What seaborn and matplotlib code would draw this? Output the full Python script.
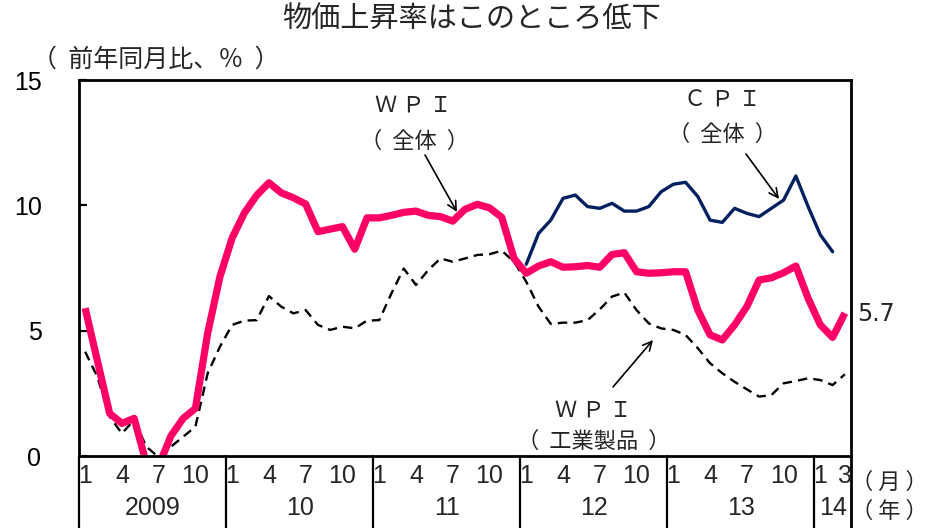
import matplotlib
matplotlib.use("Agg")
import matplotlib.pyplot as plt
import seaborn as sns
import pandas as pd
import numpy as np
from matplotlib.transforms import blended_transform_factory

# ---------------- data ----------------
wpi_all = [5.9, 3.8, 1.7, 1.3, 1.5, -0.3, -0.4, 0.8, 1.5, 1.9,
           4.9, 7.15, 8.7, 9.7, 10.4, 10.9, 10.5, 10.3, 10.05, 8.95,
           9.05, 9.15, 8.25, 9.5, 9.5, 9.6, 9.72, 9.77, 9.6, 9.55,
           9.37, 9.84, 10.04, 9.9, 9.52, 7.88, 7.29, 7.58, 7.75, 7.53,
           7.55, 7.6, 7.53, 8.04, 8.11, 7.35, 7.29, 7.31, 7.35, 7.35,
           5.82, 4.83, 4.63, 5.23, 5.96, 7.02, 7.11, 7.31, 7.58, 6.29,
           5.23, 4.73, 5.7]
wpi_mfg = [4.16, 3.16, 1.57, 0.9, 1.44, 0.37, -0.05, 0.37, 0.77, 1.17,
           3.3, 4.36, 5.23, 5.4, 5.42, 6.38, 5.96, 5.69, 5.82, 5.23,
           5.03, 5.16, 5.09, 5.4, 5.42, 6.49, 7.48, 6.82, 7.42, 7.88,
           7.75, 7.88, 8.02, 8.05, 8.19, 7.75, 6.95, 5.96, 5.27, 5.32,
           5.32, 5.42, 5.85, 6.36, 6.52, 5.82, 5.29, 5.09, 5.03, 4.83,
           4.3, 3.7, 3.3, 2.96, 2.66, 2.37, 2.43, 2.9, 2.99, 3.1,
           3.03, 2.83, 3.26]
cpi_all = [7.65, 8.88, 9.41, 10.28, 10.41, 9.95, 9.88, 10.08, 9.77, 9.77,
           9.95, 10.54, 10.84, 10.92, 10.35, 9.41, 9.32, 9.88, 9.68, 9.55,
           9.88, 10.21, 11.17, 9.95, 8.82, 8.15]
cpi_start = 36  # Jan 2012

year_labels = ["2009", "10", "11", "12", "13", "14"]
months_in_year = [12, 12, 12, 12, 12, 3]
month_labels = [[1, 4, 7, 10]] * 5 + [[1, 3]]
y_ticks = [0, 5, 10, 15]

title = "物価上昇率はこのところ低下"
y_label = "（  前年同月比、％  ）"

# ---------------- style ----------------
sns.set_style("white")
plt.rcParams['font.family'] = ['Noto Sans CJK JP', 'DejaVu Sans']
NUM_FONT = ['Liberation Sans Narrow', 'Liberation Sans', 'DejaVu Sans']

PINK = "#FF0066"
NAVY = "#002060"

fig = plt.figure(figsize=(9.35, 5.28), dpi=100)
W, H = 935, 528
ax = fig.add_axes([79 / W, 72 / H, 772 / W, 376 / H])

idx = np.arange(len(wpi_all))
df_all = pd.DataFrame({"m": idx, "v": wpi_all})
df_mfg = pd.DataFrame({"m": idx, "v": wpi_mfg})
df_cpi = pd.DataFrame({"m": np.arange(cpi_start, cpi_start + len(cpi_all)), "v": cpi_all})

sns.lineplot(data=df_mfg, x="m", y="v", ax=ax, color="black", lw=1.7,
             linestyle=(0, (4, 2.6)), legend=False)
sns.lineplot(data=df_all, x="m", y="v", ax=ax, color=PINK, lw=5.2,
             solid_joinstyle="round", solid_capstyle="butt", legend=False)
sns.lineplot(data=df_cpi, x="m", y="v", ax=ax, color=NAVY, lw=2.4,
             solid_joinstyle="round", legend=False)

ax.set_xlim(-0.5, len(wpi_all) - 0.5)
ax.set_ylim(0, 15)
ax.set_xlabel("")
ax.set_ylabel("")
ax.set_xticks([])
ax.set_yticks(y_ticks)
ax.set_yticklabels([str(t) for t in y_ticks], fontsize=18, family=NUM_FONT)
ax.tick_params(axis="y", direction="in", length=6, width=1.6, pad=27,
               left=True, colors="black")
for s in ax.spines.values():
    s.set_visible(True)
    s.set_color("black")
    s.set_linewidth(2.0)

# ---------------- x axis: months and years ----------------
tr = blended_transform_factory(ax.transData, ax.transAxes)
pos = 0
ybot = -72 / 376
for yl, n, ml in zip(year_labels, months_in_year, month_labels):
    ax.plot([pos - 0.5, pos - 0.5], [0, ybot], transform=tr, color="black",
            lw=1.6, clip_on=False)
    for m in ml:
        ax.text(pos + m - 1, -0.052, str(m), transform=tr, ha="center",
                va="center", fontsize=18, family=NUM_FONT)
    ax.text(pos + (n - 1) / 2, -0.138, yl, transform=tr, ha="center",
            va="center", fontsize=18, family=NUM_FONT)
    pos += n
ax.plot([pos - 0.5, pos - 0.5], [0, ybot], transform=tr, color="black",
        lw=2.0, clip_on=False)

fig.text(889 / W, 1 - 482 / H, "（ 月 ）", ha="center", va="center", fontsize=16)
fig.text(889 / W, 1 - 511 / H, "（ 年 ）", ha="center", va="center", fontsize=16)

# ---------------- titles ----------------
fig.text(471 / W, 1 - 20 / H, title, ha="center", va="center", fontsize=21)
fig.text(32 / W, 1 - 60 / H, y_label, ha="left", va="center", fontsize=18)

# ---------------- annotations ----------------
def ftext(x, y, s, size=16):
    ax.text(x / W, 1 - y / H, s, transform=fig.transFigure, ha="center",
            va="center", fontsize=size)

def farrow(x0, y0, x1, y1):
    ax.annotate("", xy=(x1 / W, 1 - y1 / H), xytext=(x0 / W, 1 - y0 / H),
                xycoords=fig.transFigure, textcoords=fig.transFigure,
                arrowprops=dict(arrowstyle="->", color="black", lw=1.2,
                                mutation_scale=16, shrinkA=0, shrinkB=0))

ftext(413, 105, "Ｗ Ｐ Ｉ")
ftext(415, 141, "（  全体  ）")
farrow(425, 155, 457, 212)

ftext(722, 100, "Ｃ Ｐ Ｉ")
ftext(722, 134, "（  全体  ）")
farrow(746, 154, 779, 199)

ftext(593, 410, "Ｗ Ｐ Ｉ")
ftext(594, 441, "（  工業製品  ）")
farrow(613, 387, 653, 340)

fig.text(876 / W, 1 - 314 / H, "5.7", ha="center", va="center", fontsize=17,
         family=['DejaVu Sans'])

fig.savefig("out.png", dpi=100)
